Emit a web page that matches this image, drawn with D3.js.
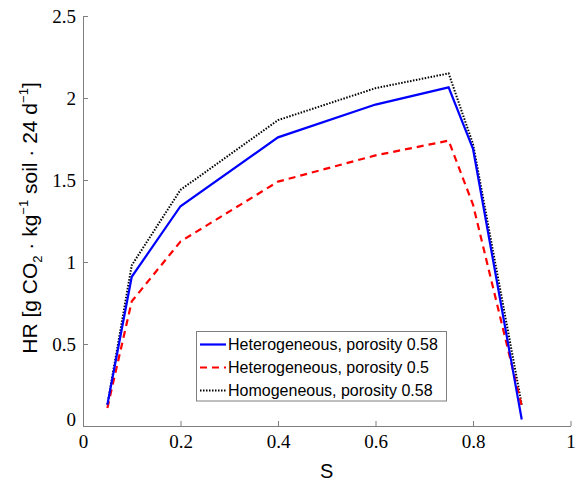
<!DOCTYPE html>
<html><head><meta charset="utf-8">
<script src="https://cdn.jsdelivr.net/npm/d3@7"></script>
<style>body{margin:0;background:#fff}</style>
</head><body>
<script>
const S = [0.05, 0.1, 0.2, 0.4, 0.6, 0.75, 0.8, 0.9];
const hetero058 = [0.13, 0.91, 1.34, 1.76, 1.96, 2.065, 1.69, 0.04];
const hetero05 = [0.11, 0.76, 1.125, 1.49, 1.65, 1.74, 1.35, 0.12];
const homo058 = [0.13, 0.98, 1.44, 1.865, 2.06, 2.15, 1.72, 0.13];
const xTicks = [0, 0.2, 0.4, 0.6, 0.8, 1];
const yTicks = [0, 0.5, 1, 1.5, 2, 2.5];
const seriesNames = ["Heterogeneous, porosity 0.58", "Heterogeneous, porosity 0.5", "Homogeneous, porosity 0.58"];

const W = 579, H = 481;
const svg = d3.select("body").append("svg").attr("width", W).attr("height", H);
const x = d3.scaleLinear().domain([0, 1]).range([83, 570.5]);
const y = d3.scaleLinear().domain([0, 2.5]).range([426, 16]);
const axisCol = "#7f7f7f";
const serif = "'Liberation Serif', 'Times New Roman', serif";
const sans = "'Liberation Sans', Arial, sans-serif";

// axes
const gx = svg.append("g").attr("transform", `translate(0,${y(0)})`)
  .call(d3.axisBottom(x).tickValues(xTicks).tickSizeInner(-5).tickSizeOuter(0).tickFormat(d => d3.format("")(d)));
const gy = svg.append("g").attr("transform", `translate(${x(0)},0)`)
  .call(d3.axisLeft(y).tickValues(yTicks).tickSizeInner(-5).tickSizeOuter(0).tickFormat(d => d3.format("")(d)));
[gx, gy].forEach(g => {
  g.attr("font-family", serif).attr("font-size", 19);
  g.select(".domain").attr("stroke", axisCol).attr("stroke-width", 1);
  g.selectAll(".tick line").attr("stroke", axisCol);
  g.selectAll("text").attr("fill", "#000").style("font-family", serif).style("font-size", "19px");
});
gx.selectAll("text").attr("y", 9).attr("dy", "0.71em");
gy.selectAll("text").attr("x", -7).attr("dy", d => d === 0 ? "-0.05em" : "0.32em");

// axis labels
svg.append("text").attr("x", x(0.5)).attr("y", 478).attr("text-anchor", "middle")
  .style("font-family", sans).style("font-size", "20px").text("S");
const yl = svg.append("text").attr("transform", `translate(37,218) rotate(-90)`)
  .attr("text-anchor", "middle").style("font-family", sans).style("font-size", "21px");
yl.append("tspan").text("HR  [g CO");
yl.append("tspan").attr("dy", 5).style("font-size", "13px").text("2");
yl.append("tspan").attr("dy", -5).text(" · kg");
yl.append("tspan").attr("dy", -9).style("font-size", "13px").text("−1");
yl.append("tspan").attr("dy", 9).text("  soil · 24 d");
yl.append("tspan").attr("dy", -9).style("font-size", "13px").text("−1");
yl.append("tspan").attr("dy", 9).text("]");

// lines
const series = [
  {vals: hetero058, color: "#0000ff", dash: null, w: 2.2},
  {vals: hetero05, color: "#ff0000", dash: "7,5", w: 2.2},
  {vals: homo058, color: "#000000", dash: "1.5,1.5", w: 2}
];
const line = d3.line().x(d => x(d[0])).y(d => y(d[1]));
[series[2], series[1], series[0]].forEach(s => {
  svg.append("path").datum(S.map((v, i) => [v, s.vals[i]]))
    .attr("d", line).attr("fill", "none").attr("stroke", s.color)
    .attr("stroke-width", s.w).attr("stroke-dasharray", s.dash).attr("stroke-linejoin", "miter");
});

// legend
const lg = svg.append("g");
lg.append("rect").attr("x", 196.5).attr("y", 331.5).attr("width", 250).attr("height", 69.5)
  .attr("fill", "#fff").attr("stroke", axisCol).attr("stroke-width", 1);
series.forEach((s, i) => {
  const yy = 344.5 + i * 23;
  lg.append("line").attr("x1", 200).attr("x2", 226).attr("y1", yy).attr("y2", yy)
    .attr("stroke", s.color).attr("stroke-width", s.w).attr("stroke-dasharray", s.dash);
  lg.append("text").attr("x", 228).attr("y", yy).attr("dy", "0.35em")
    .style("font-family", sans).style("font-size", "16px").text(seriesNames[i]);
});
</script>
</body></html>
